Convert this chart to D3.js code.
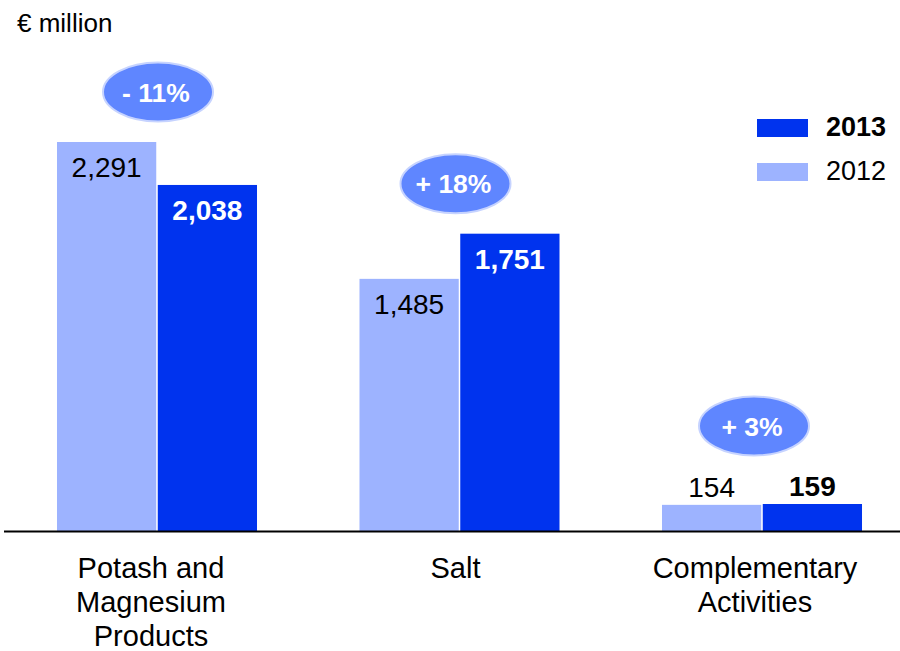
<!DOCTYPE html>
<html>
<head>
<meta charset="utf-8">
<script src="https://cdn.jsdelivr.net/npm/d3@7"></script>
<style>
  html, body { margin: 0; padding: 0; background: #fff; }
  svg { display: block; font-family: Arial, "Liberation Sans", Helvetica, sans-serif; }
</style>
</head>
<body>
<svg id="chart" width="900" height="651"></svg>
<script>
// Revenue by business segment, € million
const categories = ["Potash and Magnesium Products", "Salt", "Complementary Activities"];
const categoryLines = [["Potash and", "Magnesium", "Products"], ["Salt"], ["Complementary", "Activities"]];
const years = ["2012", "2013"];
const values2012 = [2291, 1485, 154];
const values2013 = [2038, 1751, 159];
const unitLabel = "€ million";

const colors = { "2012": "#9db3ff", "2013": "#0033ee" };
const bubbleFill = "#5f86ff";
const bubbleStroke = "#c6d3ff";

const svg = d3.select("#chart");
const baseY = 531;

const x0 = d3.scaleBand()
  .domain(categories)
  .range([5.75, 913.25])
  .paddingInner(0.3388)
  .paddingOuter(0.1694);

const x1 = d3.scaleBand()
  .domain(years)
  .range([0, x0.bandwidth()])
  .paddingInner(0.015);

const y = d3.scaleLinear()
  .domain([0, 2291])
  .range([baseY, 142]);

const rows = categories.map((c, i) => ({
  category: c,
  lines: categoryLines[i],
  bars: [
    { year: "2012", value: values2012[i] },
    { year: "2013", value: values2013[i] }
  ]
}));

const fmt = d3.format(",");

// Unit label
svg.append("text")
  .attr("x", 17).attr("y", 32)
  .attr("font-size", 26)
  .attr("fill", "#000")
  .text(unitLabel);

const groups = svg.selectAll("g.group")
  .data(rows)
  .join("g")
  .attr("class", "group")
  .attr("transform", d => `translate(${x0(d.category)},0)`);

// Bars
groups.selectAll("rect")
  .data(d => d.bars)
  .join("rect")
  .attr("x", d => x1(d.year))
  .attr("y", d => y(d.value))
  .attr("width", x1.bandwidth())
  .attr("height", d => baseY - y(d.value))
  .attr("fill", d => colors[d.year]);

// Value labels: inside the top of tall bars, above short ones
const inside = d => (baseY - y(d.value)) > 60;
const labelY = d => inside(d) ? y(d.value) + 35 : y(d.value) - 8;

groups.selectAll("text.val")
  .data(d => d.bars)
  .join("text")
  .attr("class", "val")
  .attr("x", d => x1(d.year) + x1.bandwidth() / 2)
  .attr("y", labelY)
  .attr("text-anchor", "middle")
  .attr("font-size", 28)
  .attr("font-weight", d => d.year === "2013" ? "bold" : "normal")
  .attr("fill", d => (d.year === "2013" && inside(d)) ? "#fff" : "#000")
  .text(d => fmt(d.value));

// Change bubbles
const bubbleDx = [1, -4, -8];
groups.each(function (d, i) {
  const g = d3.select(this);
  const topContent = d3.min(d.bars, b => inside(b) ? y(b.value) : labelY(b) - 20);
  const cy = topContent - 50;
  const cx = x0.bandwidth() / 2 + bubbleDx[i];
  const change = Math.round((d.bars[1].value - d.bars[0].value) / d.bars[0].value * 100);
  const txt = (change < 0 ? "- " : "+ ") + Math.abs(change) + "%";
  g.append("ellipse")
    .attr("cx", cx).attr("cy", cy)
    .attr("rx", 55).attr("ry", 29.5)
    .attr("fill", bubbleFill)
    .attr("stroke", bubbleStroke)
    .attr("stroke-width", 2);
  g.append("text")
    .attr("x", cx - 2).attr("y", cy + 9.5)
    .attr("text-anchor", "middle")
    .attr("font-size", 26.5)
    .attr("font-weight", "bold")
    .attr("fill", "#fff")
    .text(txt);
});

// Baseline
svg.append("line")
  .attr("x1", 4).attr("x2", 900)
  .attr("y1", baseY + 0.5).attr("y2", baseY + 0.5)
  .attr("stroke", "#000")
  .attr("stroke-width", 2);

// Category labels
const labelDx = [-6, -4, -7];
groups.each(function (d, i) {
  const t = d3.select(this).append("text")
    .attr("text-anchor", "middle")
    .attr("font-size", 29)
    .attr("fill", "#000");
  d.lines.forEach((ln, j) => {
    t.append("tspan")
      .attr("x", x0.bandwidth() / 2 + labelDx[i])
      .attr("y", 578 + j * 34)
      .text(ln);
  });
});

// Legend
const legendYears = ["2013", "2012"];
const legend = svg.append("g").attr("transform", "translate(757,119)");
legendYears.forEach((yr, i) => {
  legend.append("rect")
    .attr("x", 0).attr("y", i * 44)
    .attr("width", 51).attr("height", 18)
    .attr("fill", colors[yr]);
  legend.append("text")
    .attr("x", 69).attr("y", i * 44 + 17)
    .attr("font-size", 27)
    .attr("font-weight", yr === "2013" ? "bold" : "normal")
    .attr("fill", "#000")
    .text(yr);
});
</script>
</body>
</html>
